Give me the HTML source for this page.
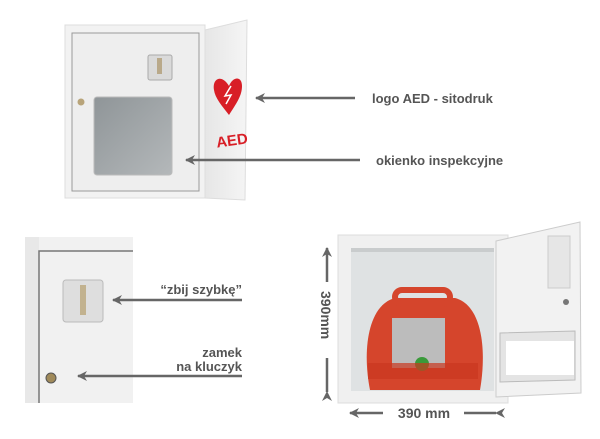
<!DOCTYPE html>
<html><head><meta charset="utf-8"><style>
html,body{margin:0;padding:0;background:#fff;width:600px;height:439px;overflow:hidden}
svg{display:block}
text{font-family:"Liberation Sans",sans-serif;font-weight:bold;fill:#555}
</style></head><body>
<svg width="600" height="439" viewBox="0 0 600 439" xmlns="http://www.w3.org/2000/svg">
<defs>
<marker id="ah" markerWidth="10" markerHeight="10" refX="1" refY="5" orient="auto" markerUnits="userSpaceOnUse">
<path d="M10,0 L0,5 L10,10 L7,5 Z" fill="#666"/></marker>
<linearGradient id="side" x1="0" x2="1"><stop offset="0" stop-color="#e6e6e6"/><stop offset="1" stop-color="#f5f5f5"/></linearGradient>
<linearGradient id="win" x1="0" y1="0" x2="1" y2="1"><stop offset="0" stop-color="#8f9598"/><stop offset="1" stop-color="#b4b8ba"/></linearGradient>
</defs>

<!-- Top cabinet -->
<polygon points="205,30 247,20 245,200 205,198" fill="url(#side)" stroke="#ddd"/>
<rect x="65" y="25" width="140" height="173" fill="#f2f2f2" stroke="#ddd"/>
<rect x="72" y="33" width="127" height="158" fill="#eeeeee" stroke="#999" stroke-width="1"/>
<rect x="94" y="97" width="78" height="78" rx="3" fill="url(#win)" stroke="#bbb"/>
<rect x="148" y="55" width="24" height="25" rx="2" fill="#dadada" stroke="#aaa"/>
<rect x="157" y="58" width="5" height="16" fill="#b9a98a"/>
<circle cx="81" cy="102" r="3.5" fill="#b8a47a"/>
<path d="M229,86 C222,74 212,78 214,90 C215,98 222,106 229,115 C236,104 242,96 242,86 C242,76 233,76 229,86 Z" fill="#d81e26"/>
<path d="M231,86 L225,96 L231,95 L226,104" stroke="#fff" stroke-width="1.5" fill="none"/>
<text x="216" y="146" transform="rotate(-8 228 140)" style="fill:#d81e26;font-size:15px">AED</text>
<line x1="256" y1="98" x2="355" y2="98" stroke="#666" stroke-width="2.5" marker-start="url(#ah)"/>
<text x="372" y="103" font-size="13">logo AED - sitodruk</text>
<line x1="186" y1="160" x2="360" y2="160" stroke="#666" stroke-width="2.5" marker-start="url(#ah)"/>
<text x="376" y="165" font-size="13">okienko inspekcyjne</text>

<!-- Bottom-left detail -->
<rect x="25" y="237" width="108" height="166" fill="#f1f1f1"/>
<rect x="25" y="237" width="14" height="166" fill="#e8e8e8"/>
<path d="M39,403 L39,251 L133,251" stroke="#777" stroke-width="1.5" fill="none"/>
<rect x="63" y="280" width="40" height="42" rx="3" fill="#dedede" stroke="#bbb"/>
<rect x="80" y="285" width="6" height="30" fill="#c2b28f"/>
<circle cx="51" cy="378" r="5" fill="#a08a5a" stroke="#555"/>
<line x1="113" y1="300" x2="242" y2="300" stroke="#666" stroke-width="2.5" marker-start="url(#ah)"/>
<text x="242" y="294" font-size="13" text-anchor="end">“zbij szybkę”</text>
<text x="242" y="357" font-size="13" text-anchor="end">zamek</text>
<text x="242" y="371" font-size="13" text-anchor="end">na kluczyk</text>
<line x1="78" y1="376" x2="242" y2="376" stroke="#666" stroke-width="2.5" marker-start="url(#ah)"/>

<!-- Bottom-right open cabinet -->
<rect x="338" y="235" width="170" height="168" fill="#f0f0f0" stroke="#ddd"/>
<rect x="351" y="248" width="143" height="143" fill="#dfe2e3"/>
<rect x="351" y="248" width="143" height="4" fill="#c9cccd"/>
<polygon points="496,241 580,222 581,393 496,397" fill="#f2f2f2" stroke="#ccc"/>
<rect x="548" y="236" width="22" height="52" fill="#e6e6e6" stroke="#ccc"/>
<polygon points="500,333 575,331 575,380 500,382" fill="#e4e4e4" stroke="#bbb"/>
<rect x="506" y="341" width="68" height="34" fill="#fff"/>
<circle cx="566" cy="302" r="3" fill="#777"/>
<path d="M370,390 C362,350 368,305 395,298 L455,298 C482,305 487,350 480,390 Z" fill="#d5452c"/>
<rect x="395" y="290" width="55" height="14" rx="7" fill="none" stroke="#d5452c" stroke-width="6"/>
<rect x="392" y="318" width="53" height="50" fill="#bcbcbc"/>
<circle cx="422" cy="364" r="7" fill="#3a9a3a"/>
<rect x="368" y="363" width="110" height="16" fill="#c9381f" opacity="0.7"/>
<line x1="327" y1="248" x2="327" y2="282" stroke="#666" stroke-width="2.5" marker-start="url(#ah)"/>
<line x1="327" y1="358" x2="327" y2="392" stroke="#666" stroke-width="2.5" marker-end="url(#ah)"/>
<text x="0" y="0" font-size="14" transform="translate(321,291) rotate(90)">390mm</text>
<line x1="350" y1="413" x2="383" y2="413" stroke="#666" stroke-width="2.5" marker-start="url(#ah)"/>
<line x1="464" y1="413" x2="496" y2="413" stroke="#666" stroke-width="2.5" marker-end="url(#ah)"/>
<text x="424" y="418" font-size="14" text-anchor="middle">390 mm</text>
</svg>
</body></html>
